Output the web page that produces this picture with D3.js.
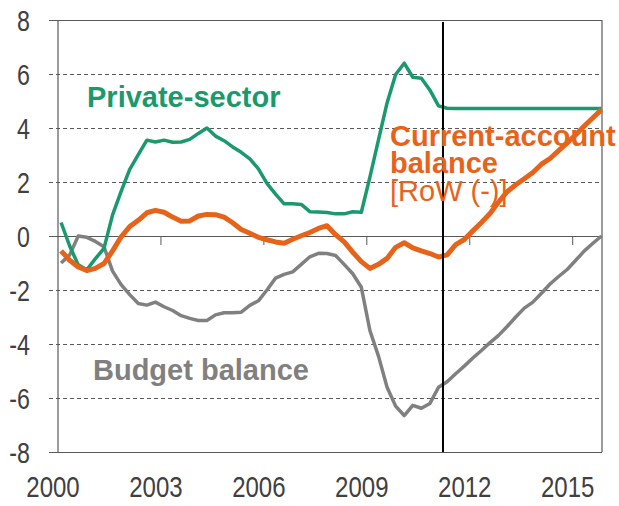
<!DOCTYPE html>
<html>
<head>
<meta charset="utf-8">
<script src="https://cdn.jsdelivr.net/npm/d3@7/dist/d3.min.js"></script>
<style>
  body { margin: 0; background: #fff; }
  svg { font-family: "Liberation Sans", Arial, sans-serif; }
</style>
</head>
<body>
<svg width="619" height="506"></svg>
<script>
// quarterly data, 2000Q1 .. 2015Q4 (values in % of GDP)
var quarters = d3.range(64).map(function(i) { return 2000.09 + i * 0.25; });

var privateSector = [
  0.5, -0.37, -1.07, -1.25, -0.84, -0.46, 0.78, 1.65, 2.47, 3.01,
  3.55, 3.48, 3.55, 3.47, 3.48, 3.58, 3.8, 4.0, 3.7, 3.53,
  3.3, 3.1, 2.86, 2.49, 1.95, 1.55, 1.19, 1.19, 1.17, 0.9,
  0.89, 0.87, 0.82, 0.82, 0.9, 0.88, 2.18, 3.56, 4.93, 5.98,
  6.4, 5.88, 5.84, 5.4, 4.82, 4.73, 4.72, 4.72, 4.72, 4.72,
  4.72, 4.72, 4.72, 4.72, 4.72, 4.72, 4.72, 4.72, 4.72, 4.72,
  4.72, 4.72, 4.72, 4.72
];

var currentAccount = [
  -0.55, -0.9, -1.15, -1.28, -1.2, -1.02, -0.55, -0.03, 0.35, 0.58,
  0.86, 0.95, 0.88, 0.7, 0.55, 0.56, 0.74, 0.8, 0.79, 0.7,
  0.49, 0.24, 0.1, -0.05, -0.14, -0.22, -0.27, -0.12, 0.01, 0.13,
  0.28, 0.38, 0.05, -0.22, -0.6, -0.95, -1.2, -1.05, -0.83, -0.42,
  -0.25, -0.44, -0.55, -0.65, -0.78, -0.7, -0.32, -0.13, 0.19, 0.5,
  0.83, 1.26, 1.64, 1.9, 2.12, 2.35, 2.66, 2.87, 3.16, 3.45,
  3.75, 4.07, 4.38, 4.68
];

var budgetBalance = [
  -1.0, -0.7, 0.0, -0.05, -0.2, -0.4, -1.3, -1.8, -2.17, -2.5,
  -2.56, -2.45, -2.62, -2.76, -2.95, -3.05, -3.13, -3.13, -2.92, -2.84,
  -2.84, -2.82, -2.57, -2.4, -2.0, -1.56, -1.42, -1.33, -1.05, -0.77,
  -0.64, -0.65, -0.72, -1.05, -1.4, -1.9, -3.5, -4.45, -5.6, -6.3,
  -6.65, -6.27, -6.38, -6.2, -5.6, -5.4, -5.1, -4.82, -4.52, -4.24,
  -3.95, -3.68, -3.35, -3.0, -2.67, -2.45, -2.12, -1.78, -1.5, -1.24,
  -0.9, -0.55, -0.27, 0.0
];

var yTicks = [-8, -6, -4, -2, 0, 2, 4, 6, 8];
var xTicks = [2003, 2006, 2009, 2012, 2015];
var xLabels = [2000, 2003, 2006, 2009, 2012, 2015];
var forecastStart = 2011.22;

var green = "#1a9a6c", orange = "#e8631a", grey = "#808080", axisCol = "#595959";

var svg = d3.select("svg");
var plotLeft = 58, plotRight = 602, plotTop = 20, plotBottom = 452;

var x = d3.scaleLinear().domain([2000, 2016]).range([plotLeft, 607]);
var y = d3.scaleLinear().domain([-8, 8]).range([plotBottom, plotTop]);

// horizontal grid + y labels (plain hyphen for negatives, like the original)
var yAxis = svg.append("g")
    .attr("transform", "translate(" + plotLeft + ",0)")
    .call(d3.axisLeft(y).tickValues(yTicks)
      .tickFormat(function(d) { return String(d); })
      .tickSizeInner(-(plotRight - plotLeft)).tickSizeOuter(0).tickPadding(0));
yAxis.select(".domain").remove();
yAxis.selectAll(".tick line")
    .attr("x1", -9)
    .attr("stroke", axisCol)
    .attr("stroke-width", 1)
    .attr("stroke-dasharray", function(d) { return (d === 0 || d === 8 || d === -8) ? null : "4,3"; });
yAxis.selectAll(".tick text")
    .attr("x", -28)
    .attr("dy", "0.36em")
    .attr("fill", "#404040")
    .style("font-size", "29px");

// left and right borders
svg.append("line").attr("x1", plotLeft).attr("x2", plotLeft).attr("y1", plotTop).attr("y2", plotBottom)
    .attr("stroke", axisCol).attr("stroke-width", 1.2);
svg.append("line").attr("x1", plotRight).attr("x2", plotRight).attr("y1", plotTop).attr("y2", plotBottom)
    .attr("stroke", axisCol).attr("stroke-width", 1.2);

// ticks under the zero line
svg.append("g").selectAll("line").data(xTicks).enter().append("line")
    .attr("x1", function(d) { return x(d); })
    .attr("x2", function(d) { return x(d); })
    .attr("y1", y(0)).attr("y2", y(0) + 9)
    .attr("stroke", axisCol).attr("stroke-width", 1);

// year labels
svg.append("g").selectAll("text").data(xLabels).enter().append("text")
    .attr("x", function(d) { return x(d) - 5; })
    .attr("y", 497)
    .attr("text-anchor", "middle")
    .attr("fill", "#404040")
    .style("font-size", "30px")
    .text(function(d) { return d; });

// squeeze the tick labels a bit (narrow font in the original)
svg.selectAll("text").each(function() {
  var w = this.getComputedTextLength();
  d3.select(this).attr("textLength", w * 0.8).attr("lengthAdjust", "spacingAndGlyphs");
});

var line = d3.line()
    .x(function(d, i) { return x(quarters[i]); })
    .y(function(d) { return y(d); });

svg.append("path").datum(budgetBalance).attr("d", line)
    .attr("fill", "none").attr("stroke", grey).attr("stroke-width", 3.5).attr("stroke-linejoin", "round");
svg.append("path").datum(privateSector).attr("d", line)
    .attr("fill", "none").attr("stroke", green).attr("stroke-width", 3.5).attr("stroke-linejoin", "round");
svg.append("path").datum(currentAccount).attr("d", line)
    .attr("fill", "none").attr("stroke", orange).attr("stroke-width", 5).attr("stroke-linejoin", "round");

// forecast divider
svg.append("line")
    .attr("x1", x(forecastStart)).attr("x2", x(forecastStart))
    .attr("y1", plotTop + 2).attr("y2", plotBottom)
    .attr("stroke", "#000").attr("stroke-width", 2);

// series labels
svg.append("text").attr("x", 87).attr("y", 107)
    .attr("fill", green).style("font-size", "29px").style("font-weight", "bold")
    .text("Private-sector");
svg.append("text").attr("x", 390).attr("y", 146)
    .attr("fill", orange).style("font-size", "29px").style("font-weight", "bold")
    .text("Current-account");
svg.append("text").attr("x", 390).attr("y", 173)
    .attr("fill", orange).style("font-size", "29px").style("font-weight", "bold")
    .text("balance");
svg.append("text").attr("x", 390).attr("y", 201)
    .attr("fill", orange).style("font-size", "29px")
    .text("[RoW (-)]");
svg.append("text").attr("x", 93).attr("y", 380)
    .attr("fill", grey).style("font-size", "29px").style("font-weight", "bold")
    .text("Budget balance");
</script>
</body>
</html>
